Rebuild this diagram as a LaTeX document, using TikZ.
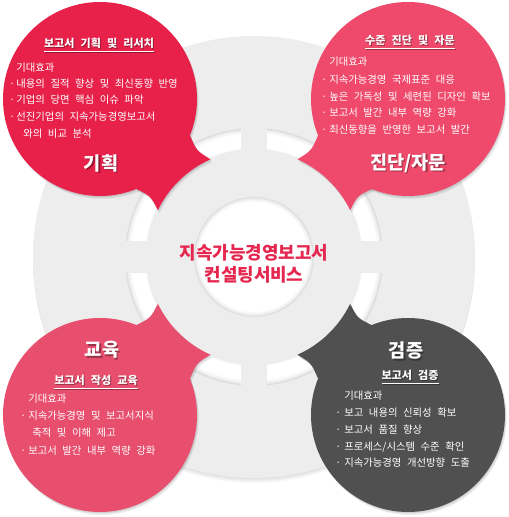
\documentclass[tikz,border=0pt]{standalone}
\usepackage{fontspec}
\setmainfont{Noto Sans CJK KR}[WordSpace=2.4]
\definecolor{bggray}{HTML}{EDEDED}
\definecolor{tlred}{HTML}{E8214B}
\definecolor{trred}{HTML}{EF4A6B}
\definecolor{blred}{HTML}{E84E6E}
\definecolor{brgray}{HTML}{505050}
\definecolor{ctext}{HTML}{E5264F}
\newcommand\bubcircle{(-154,-158) circle[radius=97]}
\newcommand\bubtail{(-64.1,-121.7) .. controls (-57.4,-106.2) .. (-43.5,-97.7) arc[start angle=246, end angle=206, radius=107] .. controls (-103.4,-61) .. (-117.7,-68.1) -- (-154,-158) -- cycle}
\newcommand\bul[1]{\makebox[#1][l]{·}}
\tikzset{
  body/.style={anchor=west, inner sep=0pt, text=white, font=\fontsize{5.9pt}{7pt}\selectfont},
  subt/.style={inner sep=0pt, text=white, font=\fontsize{6.3pt}{7pt}\selectfont\bfseries},
  subsh/.style={inner sep=0pt, text=black, text opacity=0.35, font=\fontsize{6.3pt}{7pt}\selectfont\bfseries},
  ttl/.style={inner sep=0pt, text=white, font=\fontsize{10.6pt}{12pt}\selectfont\bfseries},
  ttlsh/.style={inner sep=0pt, text=black, text opacity=0.35, font=\fontsize{10.6pt}{12pt}\selectfont\bfseries},
  ctr/.style={inner sep=0pt, text=ctext, font=\fontsize{10.2pt}{12pt}\selectfont\bfseries},
  shadowfill/.style={fill=black, opacity=0.06}
}
\begin{document}
\begin{tikzpicture}[x=0.02cm, y=-0.02cm]
\useasboundingbox (0,0) rectangle (508,517);
\fill[white] (0,0) rectangle (508,517);
% background disk with soft shadow
\foreach \s in {1,...,5}{\fill[black, opacity=0.025] (254,{257+\s}) circle[radius=221];}
\fill[bggray] (254,257) circle[radius=221];
% white groove ring
\fill[white, even odd rule] (254,257) circle[radius=129] (254,257) circle[radius=107];
\foreach \r/\o in {128.5/0.13, 127.5/0.09, 126.5/0.06, 125.5/0.04, 124.5/0.025, 123.5/0.012}{
  \draw[black, opacity=\o, line width=0.02cm] (254,257) circle[radius=\r];}
\draw[black, opacity=0.07, line width=0.02cm] (254,257) circle[radius=107.5];
\draw[black, opacity=0.03, line width=0.02cm] (254,257) circle[radius=108.5];
% spokes
\fill[bggray] (241,124) rectangle (267,153);
\fill[bggray] (241,361) rectangle (267,390);
\fill[bggray] (121,241) rectangle (150,273);
\fill[bggray] (358,241) rectangle (387,273);
% inner white disk
\fill[white] (254,257) circle[radius=60];
\foreach \r/\o in {59.5/0.12, 58.5/0.08, 57.5/0.05, 56.5/0.03, 55.5/0.015}{
  \draw[black, opacity=\o, line width=0.02cm] (254,257) circle[radius=\r];}
% bubble shadows
\foreach \d in {1,2,3}{
  \begin{scope}[shift={({254+\d*0.6},{257+\d})}]
    \fill[shadowfill] \bubcircle; \fill[shadowfill] \bubtail;
  \end{scope}
  \begin{scope}[shift={({254+\d*0.6},{257+\d})}, xscale=-1]
    \fill[shadowfill] \bubcircle; \fill[shadowfill] \bubtail;
  \end{scope}
  \begin{scope}[shift={({254+\d*0.6},{257+\d})}, yscale=-1]
    \fill[shadowfill] \bubcircle; \fill[shadowfill] \bubtail;
  \end{scope}
  \begin{scope}[shift={({254+\d*0.6},{257+\d})}, xscale=-1, yscale=-1]
    \fill[shadowfill] \bubcircle; \fill[shadowfill] \bubtail;
  \end{scope}
}
% bubbles
\begin{scope}[shift={(254,257)}]
  \fill[tlred] \bubcircle; \fill[tlred] \bubtail;
\end{scope}
\begin{scope}[shift={(254,257)}, xscale=-1]
  \fill[trred] \bubcircle; \fill[trred] \bubtail;
\end{scope}
\begin{scope}[shift={(254,257)}, yscale=-1]
  \fill[blred] \bubcircle; \fill[blred] \bubtail;
\end{scope}
\begin{scope}[shift={(254,257)}, xscale=-1, yscale=-1]
  \fill[brgray] \bubcircle; \fill[brgray] \bubtail;
\end{scope}
% centre
\node[ctr] (c1) at (254,253) {지속가능경영보고서};
\node[ctr] (c2) at (254,275) {컨설팅서비스};
% top-left
\node[subsh] (tlsubs) at (100,46) {\underline{보고서 기획 및 리서치}};
\node[subt] (tlsub) at (99,45) {\underline{보고서 기획 및 리서치}};
\node[body] (tl0) at (16,68) {기대효과};
\node[body] (tl1) at (9,84) {\bul{4pt}내용의 질적 향상 및 최신동향 반영};
\node[body] (tl2) at (9,100) {\bul{4pt}기업의 당면 핵심 이슈 파악};
\node[body] (tl3) at (9,117) {\bul{4pt}선진기업의 지속가능경영보고서};
\node[body] (tl4) at (23,134) {와의 비교 분석};
\node[ttlsh] (tlts) at (102.5,164.5) {기획};
\node[ttl] (tlt) at (101,163) {기획};
% top-right
\node[subsh] (trsubs) at (411,43) {\underline{수준 진단 및 자문}};
\node[subt] (trsub) at (410,42) {\underline{수준 진단 및 자문}};
\node[body] (tr0) at (329,62) {기대효과};
\node[body] (tr1) at (321,80) {\bul{4.5pt}지속가능경영 국제표준 대응};
\node[body] (tr2) at (321,97) {\bul{4.5pt}높은 가독성 및 세련된 디자인 확보};
\node[body] (tr3) at (321,113) {\bul{4.5pt}보고서 발간 내부 역량 강화};
\node[body] (tr4) at (321,130) {\bul{4.5pt}최신동향을 반영한 보고서 발간};
\node[ttlsh] (trts) at (409.5,164.5) {진단/자문};
\node[ttl] (trt) at (408,163) {진단/자문};
% bottom-left
\node[ttlsh] (blts) at (103.5,351.5) {교육};
\node[ttl] (blt) at (102,350) {교육};
\node[subsh] (blsubs) at (97,383) {\underline{보고서 작성 교육}};
\node[subt] (blsub) at (96,382) {\underline{보고서 작성 교육}};
\node[body] (bl0) at (28,399) {기대효과};
\node[body] (bl1) at (20,416) {\bul{4.5pt}지속가능경영 및 보고서지식};
\node[body] (bl2) at (32,433) {축적 및 이해 제고};
\node[body] (bl3) at (20,451) {\bul{4.5pt}보고서 발간 내부 역량 강화};
% bottom-right
\node[ttlsh] (brts) at (407.5,352.5) {검증};
\node[ttl] (brt) at (406,351) {검증};
\node[subsh] (brsubs) at (411,378) {\underline{보고서 검증}};
\node[subt] (brsub) at (410,377) {\underline{보고서 검증}};
\node[body] (br0) at (344,396) {기대효과};
\node[body] (br1) at (335,413) {\bul{5.1pt}보고 내용의 신뢰성 확보};
\node[body] (br2) at (335,430) {\bul{5.1pt}보고서 품질 향상};
\node[body] (br3) at (335,447) {\bul{5.1pt}프로세스/시스템 수준 확인};
\node[body] (br4) at (335,463) {\bul{5.1pt}지속가능경영 개선방향 도출};
\end{tikzpicture}
\end{document}
